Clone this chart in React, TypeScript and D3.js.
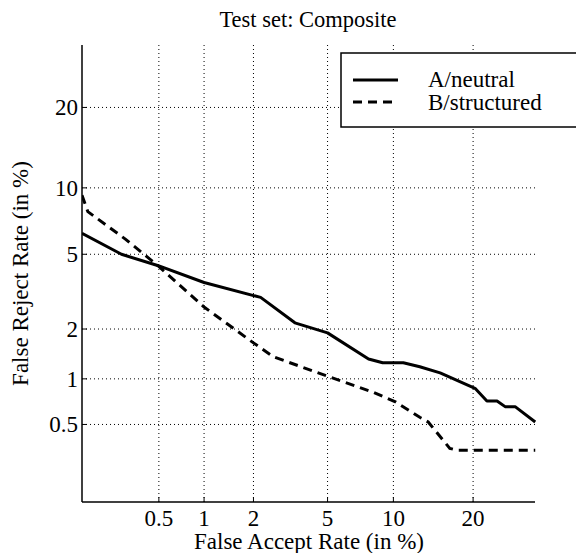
import React from "react";
import * as d3 from "d3";

// DET curves: error rates in percent, plotted on normal-deviate axes
const neutralFA = [0.135, 0.27, 0.49, 1.0, 2.2, 3.4, 5.0, 7.8, 9.0, 11.0, 12.8, 15.3, 20.3, 22.2, 23.9, 25.3, 27.1, 30.9];
const neutralFR = [6.3, 5.0, 4.4, 3.6, 3.0, 2.17, 1.9, 1.33, 1.26, 1.26, 1.19, 1.09, 0.87, 0.72, 0.72, 0.66, 0.66, 0.52];

const structuredFA = [0.135, 0.15, 0.29, 0.49, 1.0, 2.0, 2.6, 3.6, 5.0, 8.2, 10.2, 12.8, 13.8, 16.6, 17.6, 30.9];
const structuredFR = [9.3, 7.9, 5.9, 4.4, 2.66, 1.66, 1.37, 1.2, 1.04, 0.82, 0.71, 0.56, 0.52, 0.34, 0.33, 0.33];

const xTicks = [0.5, 1, 2, 5, 10, 20];
const yTicks = [0.5, 1, 2, 5, 10, 20];

const seriesNames = ["A/neutral", "B/structured"];

// inverse standard normal CDF (Acklam)
function probit(p: number): number {
  const a = [-39.69683028665376, 220.9460984245205, -275.9285104469687, 138.357751867269, -30.66479806614716, 2.506628277459239];
  const b = [-54.47609879822406, 161.5858368580409, -155.6989798598866, 66.80131188771972, -13.28068155288572];
  const c = [-0.007784894002430293, -0.3223964580411365, -2.400758277161838, -2.549732539343734, 4.374664141464968, 2.938163982698783];
  const d = [0.007784695709041462, 0.3224671290700398, 2.445134137142996, 3.754408661907416];
  const pl = 0.02425;
  if (p < pl) {
    const q = Math.sqrt(-2 * Math.log(p));
    return (((((c[0] * q + c[1]) * q + c[2]) * q + c[3]) * q + c[4]) * q + c[5]) /
      ((((d[0] * q + d[1]) * q + d[2]) * q + d[3]) * q + 1);
  } else if (p <= 1 - pl) {
    const q = p - 0.5;
    const r = q * q;
    return (((((a[0] * r + a[1]) * r + a[2]) * r + a[3]) * r + a[4]) * r + a[5]) * q /
      (((((b[0] * r + b[1]) * r + b[2]) * r + b[3]) * r + b[4]) * r + 1);
  }
  const q = Math.sqrt(-2 * Math.log(1 - p));
  return -(((((c[0] * q + c[1]) * q + c[2]) * q + c[3]) * q + c[4]) * q + c[5]) /
    ((((d[0] * q + d[1]) * q + d[2]) * q + d[3]) * q + 1);
}

const W = 576;
const H = 553;
const left = 82, right = 535, top = 45, bottom = 502;

const zx = d3.scaleLinear().domain([-3, -0.5]).range([left, right]);
const zy = d3.scaleLinear().domain([-3, -0.5]).range([bottom, top]);
const px = (pct: number) => zx(probit(pct / 100));
const py = (pct: number) => zy(probit(pct / 100));

const font = "Liberation Serif, Times New Roman, serif";

export default function App() {
  const line = d3.line<[number, number]>().x((d) => px(d[0])).y((d) => py(d[1]));
  const neutral = neutralFA.map((v, i) => [v, neutralFR[i]] as [number, number]);
  const structured = structuredFA.map((v, i) => [v, structuredFR[i]] as [number, number]);

  return (
    <div style={{ position: "absolute", left: 0, top: 0 }}>
      <svg width={W} height={H} style={{ display: "block", background: "#fff", fontFamily: font }}>
        <defs>
          <clipPath id="plotArea">
            <rect x={left} y={top - 2} width={right - left + 2} height={bottom - top + 2} />
          </clipPath>
        </defs>
        <text x={308} y={27} fontSize={22.5} textAnchor="middle">Test set: Composite</text>

        {/* grid */}
        {xTicks.map((t) => (
          <line key={"gx" + t} x1={px(t)} x2={px(t)} y1={top} y2={bottom} stroke="#000" strokeWidth={1} strokeDasharray="1,3" />
        ))}
        {yTicks.map((t) => (
          <line key={"gy" + t} x1={left} x2={right} y1={py(t)} y2={py(t)} stroke="#000" strokeWidth={1} strokeDasharray="1,3" />
        ))}

        {/* axes */}
        <line x1={left} x2={left} y1={top} y2={bottom} stroke="#000" strokeWidth={1.5} />
        <line x1={left} x2={right} y1={bottom} y2={bottom} stroke="#000" strokeWidth={1.5} />
        {xTicks.map((t) => (
          <g key={"tx" + t}>
            <line x1={px(t)} x2={px(t)} y1={bottom} y2={bottom - 5} stroke="#000" strokeWidth={1} />
            <text x={px(t)} y={526} fontSize={23} textAnchor="middle">{t}</text>
          </g>
        ))}
        {yTicks.map((t) => (
          <g key={"ty" + t}>
            <line x1={left} x2={left + 5} y1={py(t)} y2={py(t)} stroke="#000" strokeWidth={1} />
            <text x={78} y={py(t) + 8} fontSize={23} textAnchor="end">{t}</text>
          </g>
        ))}

        <text x={309} y={549} fontSize={23} textAnchor="middle">False Accept Rate (in %)</text>
        <text transform={`translate(28, ${(top + bottom) / 2}) rotate(-90)`} fontSize={23} textAnchor="middle">False Reject Rate (in %)</text>

        {/* curves */}
        <g clipPath="url(#plotArea)">
          <path d={line(neutral) || ""} fill="none" stroke="#000" strokeWidth={3} strokeLinejoin="round" />
          <path d={line(structured) || ""} fill="none" stroke="#000" strokeWidth={3} strokeDasharray="9,6" />
        </g>

        {/* legend */}
        <rect x={341} y={53} width={250} height={74} fill="#fff" stroke="#000" strokeWidth={1.5} />
        <line x1={353} x2={398} y1={80} y2={80} stroke="#000" strokeWidth={3} />
        <line x1={353} x2={395} y1={102} y2={102} stroke="#000" strokeWidth={3} strokeDasharray="9,6" />
        <text x={428} y={87} fontSize={23}>{seriesNames[0]}</text>
        <text x={428} y={110} fontSize={23}>{seriesNames[1]}</text>
      </svg>
    </div>
  );
}
